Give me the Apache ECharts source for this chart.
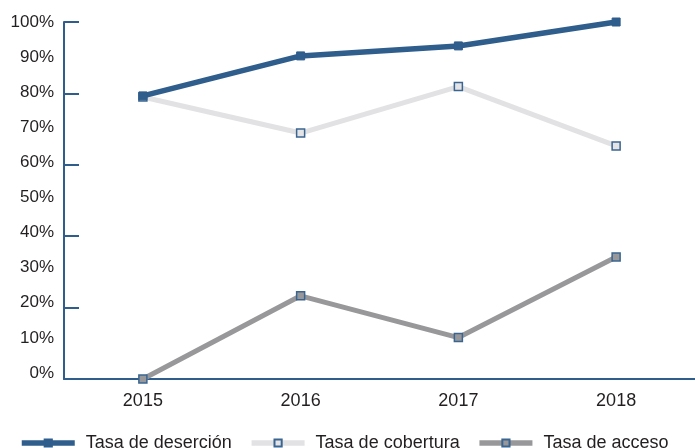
<!DOCTYPE html>
<html>
<head>
<meta charset="utf-8">
<script src="https://cdn.jsdelivr.net/npm/echarts@6/dist/echarts.min.js"></script>
<style>html,body{margin:0;padding:0;background:#fff}#c{width:695px;height:448px}</style>
</head>
<body>
<div id="c"></div>
<script>
const categories = ['2015', '2016', '2017', '2018'];
const seriesNames = ['Tasa de deserción', 'Tasa de cobertura', 'Tasa de acceso'];
const desercion = [79.3, 90.5, 93.3, 100];
const cobertura = [79.0, 68.9, 81.9, 65.3];
const acceso = [0, 23.3, 11.6, 34.2];
const yTickLabels = [0, 10, 20, 30, 40, 50, 60, 70, 80, 90, 100];

const axisBlue = '#2f5d8c';
const font = 'Liberation Sans, Arial, sans-serif';

const chart = echarts.init(document.getElementById('c'));
chart.setOption({
  animation: false,
  textStyle: { fontFamily: font },
  grid: [
    { left: 64, right: 0, top: 22, bottom: 69, containLabel: false },
    { left: 64, right: 0, top: 22, bottom: 75, containLabel: false }
  ],
  legend: {
    data: seriesNames,
    left: 19,
    top: 434,
    padding: 0,
    itemWidth: 53,
    itemHeight: 9,
    itemGap: 17,
    lineStyle: { width: 5.5 },
    textStyle: { fontSize: 18, color: '#231f20', fontFamily: font, padding: [0, 0, 0, 6] }
  },
  xAxis: [
    {
      gridIndex: 0,
      type: 'category',
      data: categories,
      boundaryGap: true,
      axisLine: { lineStyle: { color: axisBlue, width: 2 } },
      axisTick: { inside: true, length: 7, lineStyle: { color: axisBlue, width: 2 } },
      axisLabel: { fontSize: 18, color: '#231f20', margin: 13, fontFamily: font }
    },
    { gridIndex: 1, type: 'category', data: categories, show: false }
  ],
  yAxis: [
    {
      gridIndex: 0,
      type: 'value',
      min: 0, max: 100, interval: 20,
      axisLine: { show: true, lineStyle: { color: axisBlue, width: 2 } },
      axisTick: { show: true, inside: true, length: 15, lineStyle: { color: axisBlue, width: 2 } },
      axisLabel: { show: false },
      splitLine: { show: false }
    },
    {
      gridIndex: 1,
      type: 'value',
      min: 0, max: 100, interval: 10,
      axisLine: { show: false },
      axisTick: { show: false },
      splitLine: { show: false },
      axisLabel: {
        fontSize: 17, color: '#231f20', margin: 10, fontFamily: font,
        formatter: v => (yTickLabels.indexOf(v) >= 0 ? v + '%' : '')
      }
    }
  ],
  series: [
    {
      name: seriesNames[0], type: 'line', data: desercion,
      xAxisIndex: 0, yAxisIndex: 0,
      symbol: 'rect', symbolSize: 8, showAllSymbol: true,
      lineStyle: { color: '#2f5d8c', width: 5.5 },
      itemStyle: { color: '#2f5d8c', borderColor: '#2f5d8c', borderWidth: 1 },
      z: 4
    },
    {
      name: seriesNames[1], type: 'line', data: cobertura,
      xAxisIndex: 0, yAxisIndex: 0,
      symbol: 'rect', symbolSize: 8, showAllSymbol: true,
      lineStyle: { color: '#e2e2e4', width: 5 },
      itemStyle: { color: '#e4e4e6', borderColor: '#3a6590', borderWidth: 1.5 },
      z: 3
    },
    {
      name: seriesNames[2], type: 'line', data: acceso,
      xAxisIndex: 0, yAxisIndex: 0,
      symbol: 'rect', symbolSize: 8, showAllSymbol: true,
      lineStyle: { color: '#98989a', width: 5 },
      itemStyle: { color: '#98989a', borderColor: '#3a6590', borderWidth: 1.5 },
      z: 3
    }
  ]
});
</script>
</body>
</html>
